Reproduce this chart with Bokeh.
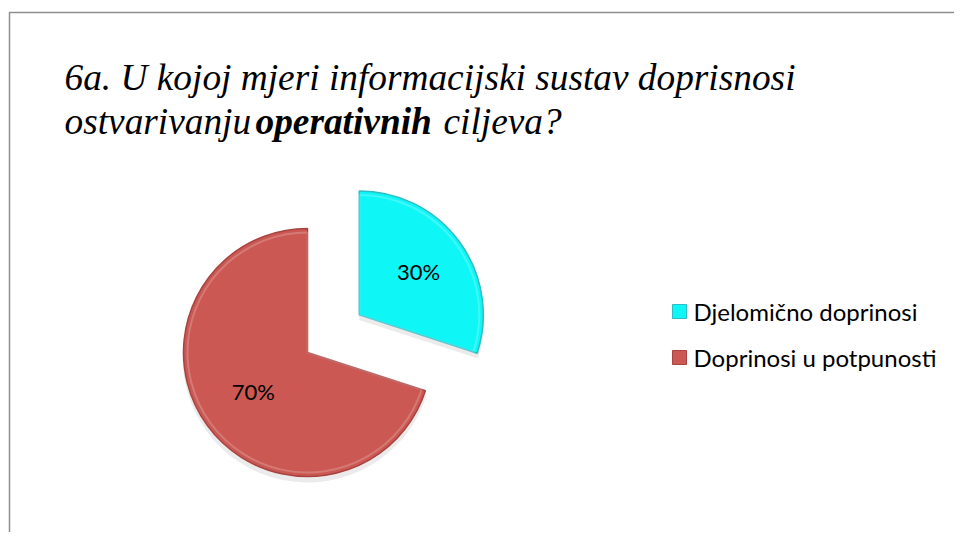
import math
from bokeh.plotting import figure
from bokeh.models import Range1d, ColumnDataSource
from bokeh.core.properties import value
from bokeh.embed import file_html
from bokeh.resources import INLINE

# ---- data ----
categories = ["Djelomično doprinosi", "Doprinosi u potpunosti"]
shares = [30, 70]
labels = ["30%", "70%"]
title_line1 = "6a. U kojoj mjeri informacijski sustav doprisnosi"
title_line2 = ["ostvarivanju", "operativnih", "ciljeva?"]

# ---- styles ----
fills = ["#0ff6f6", "#cb5853"]
edges = ["#2fbcc4", "#a9433f"]
explode = [64, 0]
label_frac = [0.59, 0.54]
SERIF = value("Liberation Serif")
SANS = value("Lato")

W, H = 954, 532
p = figure(width=W, height=H, output_backend="svg", toolbar_location=None,
           x_range=Range1d(0, W), y_range=Range1d(0, H),
           x_axis_type=None, y_axis_type=None, min_border=0)
p.grid.visible = False
p.outline_line_color = None
p.background_fill_color = "white"
p.border_fill_color = "white"


def Y(sy):
    return H - sy


# frame lines (chart area border)
p.line(x=[9, 9, W], y=[0, Y(12), Y(12)], line_color="#8f8f8f", line_width=1.5)

# pie geometry
cx0, cy0, R = 307, Y(352), 124
total = sum(shares)
cum = 0
xs, ys, starts, ends, lx, ly = [], [], [], [], [], []
for i, v in enumerate(shares):
    a0 = math.pi / 2 - 2 * math.pi * (cum + v) / total
    a1 = math.pi / 2 - 2 * math.pi * cum / total
    mid = (a0 + a1) / 2
    cx = cx0 + explode[i] * math.cos(mid)
    cy = cy0 + explode[i] * math.sin(mid)
    xs.append(cx); ys.append(cy); starts.append(a0); ends.append(a1)
    lx.append(cx + label_frac[i] * R * math.cos(mid))
    ly.append(cy + label_frac[i] * R * math.sin(mid))
    cum += v

src = ColumnDataSource(dict(x=xs, y=ys, start=starts, end=ends, fill=fills,
                            edge=edges, lx=lx, ly=ly, lab=labels,
                            sy=[y - 5 for y in ys]))

# soft shadow
p.wedge(x="x", y="sy", radius=R + 1, start_angle="start", end_angle="end",
        source=src, fill_color="#000000", fill_alpha=0.08, line_color=None)
p.wedge(x="x", y="y", radius=R, start_angle="start", end_angle="end",
        source=src, fill_color="fill", line_color="edge", line_width=1.5)
# bevel highlight
p.wedge(x="x", y="y", radius=R - 4, start_angle="start", end_angle="end",
        source=src, fill_color=None, line_color="white", line_alpha=0.2, line_width=2)

p.text(x="lx", y="ly", text="lab", source=src, text_align="center",
       text_baseline="middle", text_font=SANS, text_font_size="22px",
       text_color="black")

# legend (manual)
leg_y = [Y(311), Y(357)]
leg_src = ColumnDataSource(dict(x=[679] * 2, y=leg_y, fill=fills, edge=edges,
                                tx=[693] * 2, name=categories))
p.scatter(x="x", y="y", marker="square", size=14, source=leg_src,
          fill_color="fill", line_color="edge", line_width=1)
p.text(x="tx", y="y", text="name", source=leg_src, text_align="left",
       text_baseline="middle", text_font=SANS, text_font_size="24px",
       text_color="black")

# title
ty1 = Y(77)
ty2 = Y(121)
common = dict(text_font=SERIF, text_font_size="28pt", text_baseline="alphabetic",
              text_color="black")
p.text(x=[64], y=[ty1], text=[title_line1], text_font_style="italic", **common)
p.text(x=[64], y=[ty2], text=[title_line2[0]], text_font_style="italic", **common)
p.text(x=[255], y=[ty2], text=[title_line2[1]], text_font_style="bold italic", **common)
p.text(x=[443], y=[ty2], text=[title_line2[2]], text_font_style="italic", **common)

open("out.html", "w").write(file_html(p, INLINE))
